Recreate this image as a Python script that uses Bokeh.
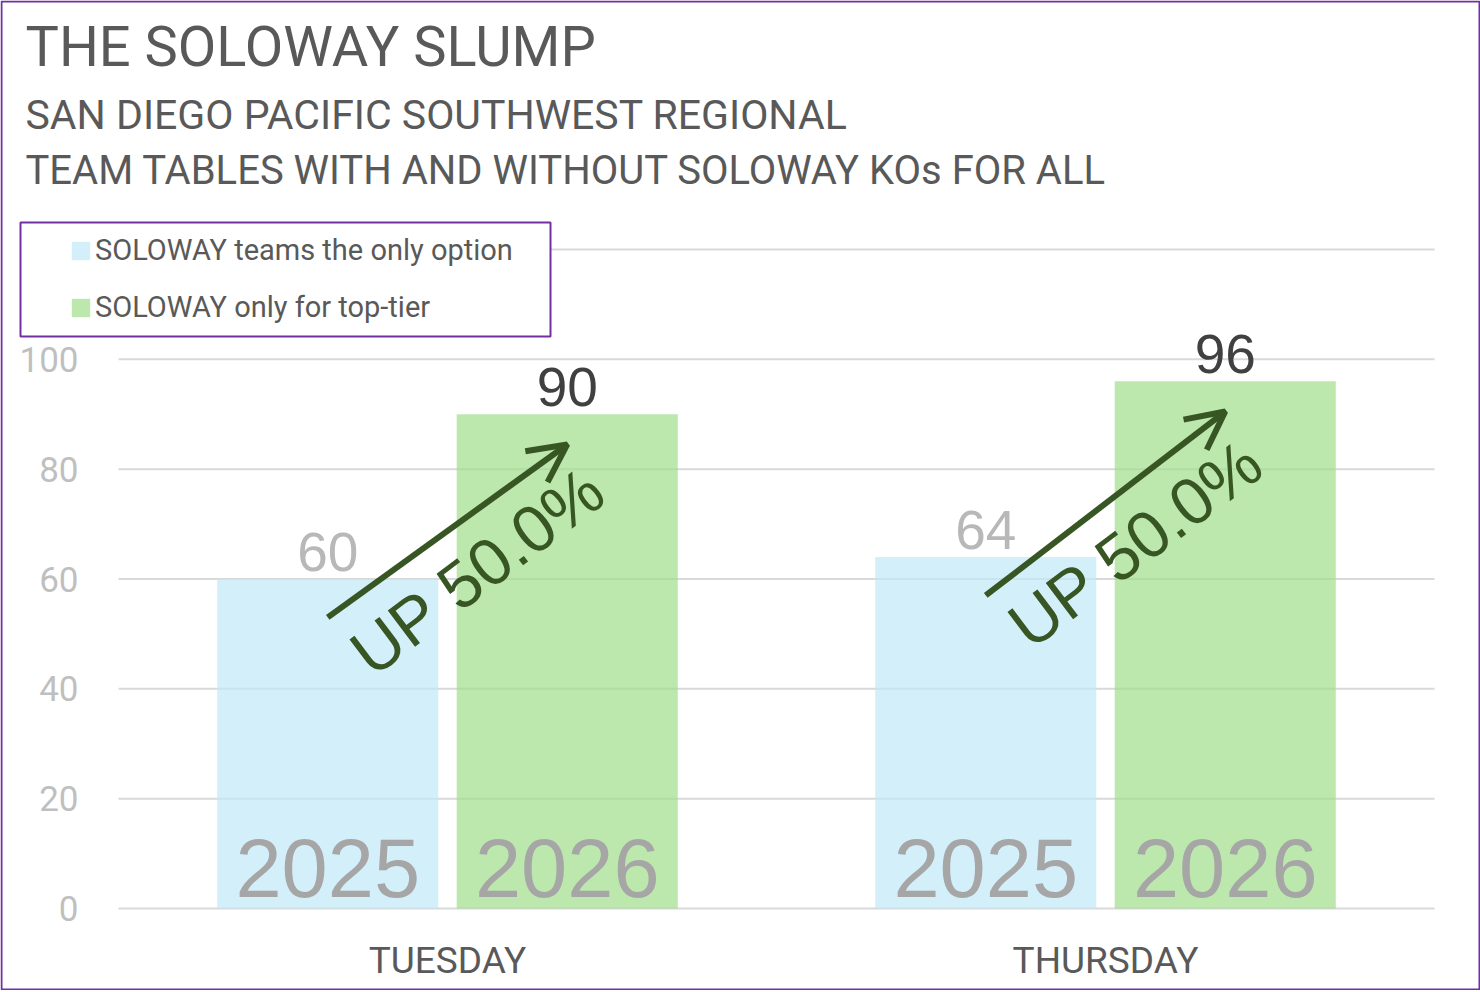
from bokeh.plotting import figure
from bokeh.models import (ColumnDataSource, Range1d, FixedTicker, Label, Legend,
                          LegendItem, Arrow, OpenHead, BoxAnnotation)
from bokeh.core.properties import value
from bokeh.embed import file_html
from bokeh.resources import INLINE

# ---------------- data ----------------
days = ["TUESDAY", "THURSDAY"]
series_names = ["SOLOWAY teams the only option", "SOLOWAY only for top-tier"]
years = ["2025", "2026"]
val_2025 = [60, 64]
val_2026 = [90, 96]
y_ticks = [0, 20, 40, 60, 80, 100]
grid_ticks = [0, 20, 40, 60, 80, 100, 120]
title_text = "THE SOLOWAY SLUMP"
subtitle_1 = "SAN DIEGO PACIFIC SOUTHWEST REGIONAL"
subtitle_2 = "TEAM TABLES WITH AND WITHOUT SOLOWAY KOs FOR ALL"

# ---------------- layout / style ----------------
W, H = 1480, 990
X0PX, PXC = 118, 658          # left edge of category area, px per category
Y0PX, PXU = 908, 659 / 120    # zero line, px per value unit
NARROW = "Roboto"
ARIAL = "'Liberation Sans', Arial, sans-serif"
BLUE, GREEN, BAR_ALPHA = "#c0e8f8", "#9fde8a", 0.7
DARK_GREEN, PURPLE = "#375623", "#7030a0"
TITLE_GREY = "#595959"
OFF, BW = 0.182, 0.336

p = figure(x_range=Range1d(-X0PX / PXC, (W - X0PX) / PXC),
           y_range=Range1d(-(H - Y0PX) / PXU, Y0PX / PXU),
           width=W, height=H, title=None, toolbar_location=None, output_backend="svg",
           min_border_left=0, min_border_right=0, min_border_top=0, min_border_bottom=0)
p.background_fill_color = "white"
p.border_fill_color = "white"
p.outline_line_color = None
p.xgrid.visible = False
p.ygrid.visible = False

n = len(days)
centers = [i + 0.5 for i in range(n)]

# gridlines (limited to the category area)
grid_src = ColumnDataSource(dict(y=grid_ticks, x0=[0] * len(grid_ticks), x1=[n] * len(grid_ticks)))
p.segment(x0="x0", x1="x1", y0="y", y1="y", source=grid_src, line_color="#d9d9d9", line_width=2)

src = ColumnDataSource(dict(
    xb0=[c - OFF for c in centers], xb1=[c + OFF for c in centers],
    v0=val_2025, v1=val_2026,
    l0=[str(v) for v in val_2025], l1=[str(v) for v in val_2026],
    y0=[years[0]] * n, y1=[years[1]] * n,
))

bar0 = p.vbar(x="xb0", top="v0", width=BW, source=src, fill_color=BLUE, fill_alpha=BAR_ALPHA, line_color=None)
bar1 = p.vbar(x="xb1", top="v1", width=BW, source=src, fill_color=GREEN, fill_alpha=BAR_ALPHA, line_color=None)

# value labels
p.text(x="xb0", y="v0", text="l0", source=src, text_align="center", text_baseline="middle",
       y_offset=-27, text_font=value(ARIAL), text_font_size="55px", text_color="#b8b8b8")
p.text(x="xb1", y="v1", text="l1", source=src, text_align="center", text_baseline="middle",
       y_offset=-27, text_font=value(ARIAL), text_font_size="55px", text_color="#404040")

# year labels inside bars
p.text(x="xb0", y=0, text="y0", source=src, text_align="center", text_baseline="middle",
       y_offset=-41, text_font=value(ARIAL), text_font_size="83px", text_color="#a6a6a6")
p.text(x="xb1", y=0, text="y1", source=src, text_align="center", text_baseline="middle",
       y_offset=-41, text_font=value(ARIAL), text_font_size="83px", text_color="#a6a6a6")

# growth arrows
ax0 = [c - OFF for c in centers]
ax1 = [c + OFF for c in centers]
ay0 = [v - 7 for v in val_2025]
ay1 = [v - 5.5 for v in val_2026]
pct = [f"UP {(b - a) / a * 100:.1f}%" for a, b in zip(val_2025, val_2026)]
arrow_src = ColumnDataSource(dict(
    x0=ax0, y0=ay0, x1=ax1, y1=ay1,
    xm=[(a + b) / 2 for a, b in zip(ax0, ax1)],
    ym=[(a + b) / 2 for a, b in zip(ay0, ay1)],
    txt=pct,
))
p.add_layout(Arrow(end=OpenHead(size=38, line_width=6, line_color=DARK_GREEN),
                   x_start="x0", y_start="y0", x_end="x1", y_end="y1",
                   source=arrow_src, line_width=6, line_color=DARK_GREEN))
p.text(x="xm", y="ym", text="txt", source=arrow_src, angle=37, angle_units="deg",
       x_offset=30, y_offset=40, text_align="center", text_baseline="middle",
       text_font=value(ARIAL), text_font_size="66px", text_color=DARK_GREEN)

# axes (placed inside the frame at fixed data locations)
p.yaxis.fixed_location = 0
p.xaxis.fixed_location = 0
p.yaxis.ticker = FixedTicker(ticks=y_ticks)
p.xaxis.ticker = FixedTicker(ticks=centers)
p.xaxis.major_label_overrides = {c: d for c, d in zip(centers, days)}
for ax in (p.xaxis, p.yaxis):
    ax.axis_line_color = None
    ax.major_tick_line_color = None
    ax.minor_tick_line_color = None
    ax.major_label_text_font = NARROW
p.yaxis.major_label_text_font_size = "35px"
p.yaxis.major_label_text_color = "#bfbfbf"
p.yaxis.major_label_standoff = 34
p.xaxis.major_label_text_font_size = "37px"
p.xaxis.major_label_text_color = TITLE_GREY
p.xaxis.major_label_standoff = 24

# legend box + legend
p.add_layout(BoxAnnotation(left=20, right=550, top=H - 222, bottom=H - 336,
                           left_units="screen", right_units="screen",
                           top_units="screen", bottom_units="screen",
                           fill_color="white", fill_alpha=1.0,
                           line_color=PURPLE, line_alpha=1.0, line_width=2))
legend = Legend(items=[LegendItem(label=series_names[0], renderers=[bar0]),
                       LegendItem(label=series_names[1], renderers=[bar1])],
                location=(69, H - 327), margin=0, padding=0, spacing=17,
                glyph_width=23, glyph_height=23, label_standoff=3, label_height=40,
                border_line_color=None, background_fill_alpha=0.0,
                label_text_font=NARROW, label_text_font_size="29px",
                label_text_color=TITLE_GREY)
p.add_layout(legend)

# titles
for txt, cy, size in ((title_text, 46.5, "56px"), (subtitle_1, 114.7, "41px"), (subtitle_2, 169.5, "40px")):
    p.add_layout(Label(x=25, y=H - cy, x_units="screen", y_units="screen", text=txt,
                       text_font=NARROW, text_font_size=size, text_color=TITLE_GREY,
                       text_baseline="middle"))

# outer border
p.add_layout(BoxAnnotation(left=1, right=W - 1, top=H - 1, bottom=1,
                           left_units="screen", right_units="screen",
                           top_units="screen", bottom_units="screen",
                           fill_alpha=0, line_color=PURPLE, line_alpha=1.0, line_width=2,
                           level="overlay"))

open("out.html", "w").write(file_html(p, INLINE, title="The Soloway Slump"))
